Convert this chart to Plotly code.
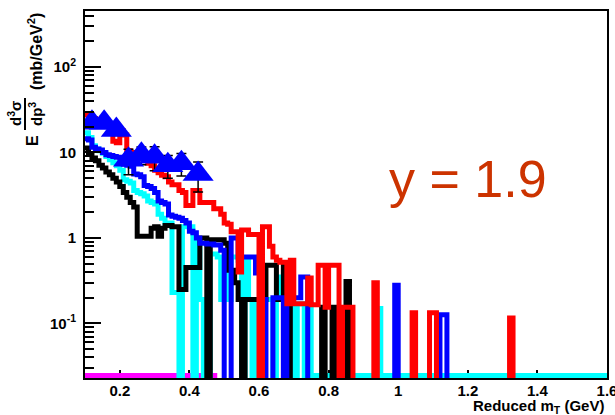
import numpy as np
import plotly.graph_objects as go

# ---------------- data (bins of 0.01 GeV starting at 0.10 GeV) ----------------
bin_lo, bin_w, n_bins = 0.10, 0.01, 150
edges = np.round(bin_lo + bin_w * np.arange(n_bins + 1), 3)

red_vals = [
    27.5, 27.5, 25, 24, 23, 22.5, 21.5, 20, 13.5, 13,
    18, 16, 10.5, 10, 9.6, 9.2, 8.6, 8.2, 7.5, 7.0,
    6.2, 5.8, 5.4, 5.2, 4.5, 4.2, 4.2, 3.6, 3.4, 2.4,
    2.4, 3.6, 3.6, 2.6, 2.6, 2.6, 2.6, 2.2, 2.2, 1.9,
    1.5, 1.45, 1.18, 1.18, 0.4, 1.24, 1.24, 1.1, 1.1, 1.1,
    0, 1.35, 1.35, 0.8, 0.6, 0.55, 0.52, 0.52, 0.17, 0.55,
    0.17, 0.17, 0.17, 0.17, 0.34, 0.165, 0.165, 0.48, 0.48, 0.155,
    0.48, 0.48, 0.48, 0, 0.155, 0.155, 0.155, 0, 0, 0,
    0, 0, 0, 0.3, 0, 0, 0, 0, 0, 0,
    0, 0, 0, 0, 0.133, 0, 0, 0, 0, 0.133,
    0.133, 0, 0, 0, 0, 0, 0, 0, 0, 0,
    0, 0, 0, 0, 0, 0, 0, 0, 0, 0,
    0, 0, 0.116, 0, 0, 0, 0, 0, 0, 0,
    0, 0, 0, 0, 0, 0, 0, 0, 0, 0,
    0, 0, 0, 0, 0, 0, 0, 0, 0, 0,
]

blue_vals = [
    14.5, 14, 11.5, 11, 10.7, 10, 9.4, 9.2, 9.0, 8.8,
    8.6, 7.3, 7.1, 6.9, 5.6, 5.5, 5.2, 4.1, 4.0, 3.8,
    3.4, 2.7, 2.6, 2.5, 1.85, 1.8, 1.75, 1.7, 1.6, 1.5,
    1.2, 1.15, 1.0, 0.87, 0.87, 0.85, 0.85, 0.83, 0.83, 0.72,
    0, 0, 1.0, 1.0, 0.6, 0.6, 0.6, 0.6, 0.6, 0.39,
    0.39, 0.19, 0, 0, 0.2, 0.2, 0.2, 0, 0.2, 0.2,
    0.2, 0.2, 0.35, 0.35, 0, 0, 0, 0, 0, 0,
    0, 0, 0, 0, 0, 0, 0, 0, 0, 0,
    0, 0, 0, 0, 0, 0, 0, 0, 0, 0.28,
    0, 0, 0, 0, 0, 0, 0, 0, 0, 0,
    0, 0, 0.126, 0.126, 0, 0, 0, 0, 0, 0,
    0, 0, 0, 0, 0, 0, 0, 0, 0, 0,
    0, 0, 0, 0, 0, 0, 0, 0, 0, 0,
    0, 0, 0, 0, 0, 0, 0, 0, 0, 0,
    0, 0, 0, 0, 0, 0, 0, 0, 0, 0,
]

black_vals = [
    11.3, 9.5, 8.6, 8.0, 7.1, 6.6, 5.9, 5.5, 5.0, 4.5,
    4.0, 3.4, 3.0, 2.6, 2.3, 1.05, 1.05, 1.05, 1.05, 1.3,
    1.35, 1.05, 1.3, 1.4, 1.4, 1.35, 1.35, 0.25, 0.25, 0.45,
    0.45, 0.45, 0.45, 1.0, 1.0, 0, 0.95, 0.95, 0.95, 0.95,
    0.87, 0.42, 0.42, 0.3, 0.19, 0, 0.19, 0.19, 0.19, 0.19,
    0.19, 0.19, 0.48, 0.48, 0.48, 0.19, 0.19, 0.5, 0.3, 0,
    0, 0, 0, 0, 0, 0, 0, 0, 0.155, 0,
    0, 0.155, 0, 0, 0, 0.31, 0, 0, 0, 0,
    0, 0, 0, 0, 0, 0, 0, 0, 0, 0,
    0, 0, 0, 0, 0, 0, 0, 0, 0, 0,
    0, 0, 0, 0, 0, 0, 0, 0, 0, 0,
    0, 0, 0, 0, 0, 0, 0, 0, 0, 0,
    0, 0, 0, 0, 0, 0, 0, 0, 0, 0,
    0, 0, 0, 0, 0, 0, 0, 0, 0, 0,
    0, 0, 0, 0, 0, 0, 0, 0, 0, 0,
]

cyan_vals = [
    17, 15, 12, 11, 10.5, 9.8, 9.0, 8.2, 7.6, 7.0,
    6.2, 4.8, 4.6, 4.4, 3.6, 3.4, 3.3, 3.1, 2.7, 2.6,
    2.5, 1.9, 1.7, 1.5, 1.5, 0.23, 0.23, 0, 1.35, 1.35,
    1.35, 0, 0.95, 0.19, 0, 0, 0.65, 0.65, 0.6, 0.19,
    0.6, 0.19, 0.6, 0.6, 0.55, 0, 0.55, 0.19, 0, 0.19,
    0, 0.19, 0.19, 0.19, 0, 0.19, 0.35, 0.35, 0, 0.17,
    0, 0.17, 0.17, 0, 0.17, 0, 0, 0, 0, 0,
    0, 0, 0, 0, 0, 0, 0, 0, 0, 0,
    0, 0, 0, 0, 0.15, 0, 0, 0, 0, 0,
    0, 0, 0, 0, 0, 0, 0, 0, 0, 0,
    0, 0, 0, 0, 0, 0, 0, 0, 0, 0,
    0, 0, 0, 0, 0, 0, 0, 0, 0, 0,
    0, 0, 0, 0, 0, 0, 0, 0, 0, 0,
    0, 0, 0, 0, 0, 0, 0, 0, 0, 0,
    0, 0, 0, 0, 0, 0, 0, 0, 0, 0,
]

# empty histogram (0.10 - 0.48 GeV)
magenta_vals = [0] * 38

tri_x = [0.12, 0.155, 0.19, 0.225, 0.262, 0.30, 0.338, 0.377, 0.425]
tri_y = [22.2, 22.2, 18.3, 8.2, 9.4, 8.9, 7.1, 7.5, 5.6]
tri_err = [3.0, 3.0, 2.5, 2.7, 2.2, 2.8, 2.1, 2.2, 2.15]

x_tickvals = [0.2, 0.4, 0.6, 0.8, 1.0, 1.2, 1.4, 1.6]
x_ticktext = ["0.2", "0.4", "0.6", "0.8", "1", "1.2", "1.4", "1.6"]
y_tickvals = [0.1, 1, 10, 100]
y_ticktext = ["10<sup>-1</sup>", "1", "10", "10<sup>2</sup>"]

# ---------------- layout constants ----------------
W_PX, H_PX = 615, 415
L, R, T, B = 85, 8, 11, 37
PW, PH = W_PX - L - R, H_PX - T - B
X_MIN, X_MAX = 0.10, 1.60
Y_MIN, Y_MAX = 0.023, 452.0
FLOOR_VISIBLE = Y_MIN * 1.07      # empty bins drawn on frame bottom
FLOOR_HIDDEN = Y_MIN / 30.0       # empty bins dropped below the frame


def px_x(px):
    return (px - L) / PW


def px_y(py):
    return (H_PX - B - py) / PH


def steps(vals, empty_level):
    n = len(vals)
    xs = list(edges[: n + 1])
    ys = [v if v > 0 else empty_level for v in vals]
    ys = ys + [ys[-1]]
    return xs, ys


fig = go.Figure()
LW = 5
for vals, col, floor in [
    (magenta_vals, "#FF00FF", FLOOR_VISIBLE),
    (cyan_vals, "#00FFFF", FLOOR_VISIBLE),
    (black_vals, "#000000", FLOOR_HIDDEN),
    (blue_vals, "#0000FF", FLOOR_HIDDEN),
    (red_vals, "#FF0000", FLOOR_HIDDEN),
]:
    xs, ys = steps(vals, floor)
    fig.add_trace(go.Scatter(x=xs, y=ys, mode="lines",
                             line=dict(color=col, width=LW, shape="hv"),
                             hoverinfo="skip", showlegend=False))

fig.add_trace(go.Scatter(
    x=tri_x, y=tri_y, mode="markers",
    marker=dict(symbol="triangle-up", size=27, color="#0000FF", line=dict(width=0)),
    error_y=dict(type="data", array=tri_err, color="black", thickness=1.5, width=5),
    showlegend=False))

tickfont = dict(family="Liberation Sans, Arial, sans-serif", size=15, color="black", weight="bold")

x_minor = [round(v, 2) for v in np.arange(0.15, 1.6, 0.05) if round(v, 2) not in [round(t, 2) for t in x_tickvals]]
y_minor = [m * 10.0 ** e for e in range(-2, 3) for m in range(2, 10)]

fig.update_xaxes(
    range=[X_MIN, X_MAX], tickmode="array", tickvals=x_tickvals, ticktext=x_ticktext,
    ticks="inside", ticklen=8, tickwidth=2, tickcolor="black",
    minor=dict(ticks="inside", ticklen=4, tickwidth=2, tickcolor="black", tickvals=x_minor, showgrid=False),
    showline=True, linewidth=2, linecolor="black", mirror=True,
    showgrid=False, zeroline=False, tickfont=tickfont, layer="below traces",
    ticklabeloverflow="allow", ticklabelstandoff=-2, automargin=False)

fig.update_yaxes(
    type="log", range=[np.log10(Y_MIN), np.log10(Y_MAX)],
    tickmode="array", tickvals=y_tickvals, ticktext=y_ticktext,
    ticks="inside", ticklen=16, tickwidth=2, tickcolor="black",
    minor=dict(ticks="inside", ticklen=9, tickwidth=2, tickcolor="black", tickvals=y_minor, showgrid=False),
    showline=True, linewidth=2, linecolor="black", mirror=True,
    showgrid=False, zeroline=False, tickfont=tickfont, ticklabelstandoff=4, automargin=False)

tfont = dict(family="Liberation Sans, Arial, sans-serif", size=16, color="black", weight="bold")
ann = [
    dict(text="y = 1.9", x=px_x(468), y=px_y(179), xref="paper", yref="paper",
         showarrow=False, xanchor="center", yanchor="middle",
         font=dict(family="Liberation Sans, Arial, sans-serif", size=52, color="#CC3300")),
    dict(text="Reduced m<sub>T</sub> (GeV)", x=px_x(606), y=px_y(406), xref="paper", yref="paper",
         showarrow=False, xanchor="right", yanchor="middle", font=dict(tfont, size=15)),
    dict(text="E", x=px_x(32), y=px_y(141), xref="paper", yref="paper", textangle=-90,
         showarrow=False, xanchor="center", yanchor="middle", font=tfont),
    dict(text="d<sup>3</sup>σ", x=px_x(14), y=px_y(114), xref="paper", yref="paper", textangle=-90,
         showarrow=False, xanchor="center", yanchor="middle", font=dict(tfont, size=15)),
    dict(text="dp<sup>3</sup>", x=px_x(35), y=px_y(114), xref="paper", yref="paper", textangle=-90,
         showarrow=False, xanchor="center", yanchor="middle", font=dict(tfont, size=15)),
    dict(text="(mb/GeV<sup>2</sup>)", x=px_x(35), y=px_y(52), xref="paper", yref="paper", textangle=-90,
         showarrow=False, xanchor="center", yanchor="middle", font=tfont),
]

fig.update_layout(
    width=W_PX, height=H_PX,
    margin=dict(l=L, r=R, t=T, b=B, pad=0, autoexpand=False),
    paper_bgcolor="white", plot_bgcolor="white",
    annotations=ann,
    shapes=[dict(type="line", xref="paper", yref="paper",
                 x0=px_x(25), x1=px_x(25), y0=px_y(98), y1=px_y(130),
                 line=dict(color="black", width=2))],
)

fig.write_html("out.html")
